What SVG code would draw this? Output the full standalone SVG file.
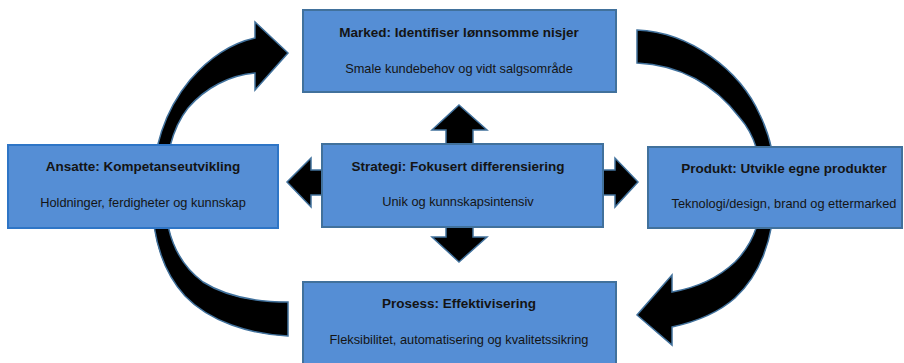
<svg xmlns="http://www.w3.org/2000/svg" width="904" height="363" viewBox="0 0 904 363">
<style>
.box{fill:#558ED5;stroke:#41719C;stroke-width:2}
.box2{fill:#558ED5;stroke:#2E75C6;stroke-width:2}
.arr{fill:#000;stroke:#41719C;stroke-width:1.5;stroke-linejoin:miter}
.t{font-family:"Liberation Sans",Arial,sans-serif;font-weight:bold;font-size:13.5px;fill:#141414;text-anchor:middle}
.s{font-family:"Liberation Sans",Arial,sans-serif;font-size:12.8px;fill:#141414;text-anchor:middle}
</style>
<rect width="904" height="363" fill="#fff"/>
<g id="connectors">
<path class="arr" d="M288,336 C250,334 210,322 185,296 C163,272 152,240 152,195 C152,150 165,110 190,80 C210,57 232,43 255,38 L255,22 L288,53 L255,90 L255,73 C230,75 205,88 188,108 C172,128 164,160 165,195 C165,230 176,262 203,282 C228,298 258,302 288,302 Z"/>
<path class="arr" d="M637,30 C690,32 740,70 760,115 C772,140 776,165 775,190 C774,240 760,275 735,298 C718,313 695,322 672,327 L672,345 L637,315 L672,275 L672,292 C695,288 718,278 735,262 C752,245 762,220 762,190 C762,160 755,135 740,118 C715,85 680,65 637,63 Z"/>
<path class="arr" d="M459,105 L487,130 L473,130 L473,170 L615,170 L615,158 L638,182 L615,207 L615,195 L473,195 L473,237 L487,237 L459,262 L432,237 L446,237 L446,195 L311,195 L311,207 L287,182 L311,158 L311,170 L446,170 L446,130 L432,130 Z"/>
</g>
<g id="marked">
<rect class="box" x="303" y="10" width="313" height="82"/>
<text class="t" x="459" y="37">Marked: Identifiser lønnsomme nisjer</text>
<text class="s" x="459" y="73">Smale kundebehov og vidt salgsområde</text>
</g>
<g id="ansatte">
<rect class="box2" x="8" y="145" width="270" height="83"/>
<text class="t" x="143" y="171">Ansatte: Kompetanseutvikling</text>
<text class="s" x="143" y="207">Holdninger, ferdigheter og kunnskap</text>
</g>
<g id="strategi">
<rect class="box" x="322" y="144" width="281" height="83"/>
<text class="t" x="458" y="171">Strategi: Fokusert differensiering</text>
<text class="s" x="458" y="206">Unik og kunnskapsintensiv</text>
</g>
<g id="produkt">
<rect class="box" x="648" y="147" width="254" height="81"/>
<text class="t" x="784" y="173">Produkt: Utvikle egne produkter</text>
<text class="s" x="784" y="208">Teknologi/design, brand og ettermarked</text>
</g>
<g id="prosess">
<rect class="box" x="303" y="282" width="313" height="90"/>
<text class="t" x="459" y="308">Prosess: Effektivisering</text>
<text class="s" x="459" y="344">Fleksibilitet, automatisering og kvalitetssikring</text>
</g>
</svg>
